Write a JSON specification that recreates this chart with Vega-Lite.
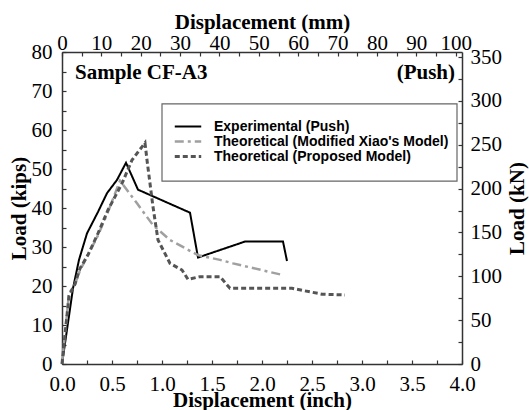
{
  "$schema": "https://vega.github.io/schema/vega-lite/v6.json",
  "width": 400,
  "height": 312,
  "autosize": {"type": "none"},
  "padding": {"left": 62, "top": 52, "right": 67, "bottom": 46},
  "background": "white",
  "config": {
    "view": {"stroke": null},
    "axis": {
      "labelFont": "Liberation Serif",
      "labelFontSize": 21,
      "labelColor": "black",
      "titleFont": "Liberation Serif",
      "titleFontSize": 21,
      "titleFontWeight": "bold",
      "titleColor": "black",
      "domainColor": "#333",
      "domainWidth": 1.5,
      "tickColor": "#333",
      "tickWidth": 1.2,
      "tickSize": -4,
      "grid": false,
      "labelOverlap": false,
      "labelFlush": false
    }
  },
  "datasets": {
    "curves": [
      {"series": "Experimental (Push)", "d": 0, "p": 0},
      {"series": "Experimental (Push)", "d": 0.11, "p": 19.4},
      {"series": "Experimental (Push)", "d": 0.17, "p": 26.7},
      {"series": "Experimental (Push)", "d": 0.25, "p": 33.5},
      {"series": "Experimental (Push)", "d": 0.36, "p": 39.0},
      {"series": "Experimental (Push)", "d": 0.45, "p": 43.8},
      {"series": "Experimental (Push)", "d": 0.55, "p": 47.2},
      {"series": "Experimental (Push)", "d": 0.64, "p": 51.6},
      {"series": "Experimental (Push)", "d": 0.76, "p": 44.7},
      {"series": "Experimental (Push)", "d": 1.28, "p": 38.8},
      {"series": "Experimental (Push)", "d": 1.36, "p": 27.3},
      {"series": "Experimental (Push)", "d": 1.83, "p": 31.4},
      {"series": "Experimental (Push)", "d": 2.21, "p": 31.4},
      {"series": "Experimental (Push)", "d": 2.25, "p": 26.4},
      {"series": "Theoretical (Modified Xiao's Model)", "d": 0, "p": 0},
      {"series": "Theoretical (Modified Xiao's Model)", "d": 0.07, "p": 18.1},
      {"series": "Theoretical (Modified Xiao's Model)", "d": 0.13, "p": 20.5},
      {"series": "Theoretical (Modified Xiao's Model)", "d": 0.18, "p": 24.0},
      {"series": "Theoretical (Modified Xiao's Model)", "d": 0.26, "p": 28.0},
      {"series": "Theoretical (Modified Xiao's Model)", "d": 0.36, "p": 33.0},
      {"series": "Theoretical (Modified Xiao's Model)", "d": 0.46, "p": 39.0},
      {"series": "Theoretical (Modified Xiao's Model)", "d": 0.58, "p": 47.0},
      {"series": "Theoretical (Modified Xiao's Model)", "d": 0.75, "p": 41.2},
      {"series": "Theoretical (Modified Xiao's Model)", "d": 0.91, "p": 35.6},
      {"series": "Theoretical (Modified Xiao's Model)", "d": 1.08, "p": 31.8},
      {"series": "Theoretical (Modified Xiao's Model)", "d": 1.36, "p": 27.9},
      {"series": "Theoretical (Modified Xiao's Model)", "d": 1.58, "p": 26.7},
      {"series": "Theoretical (Modified Xiao's Model)", "d": 1.71, "p": 25.8},
      {"series": "Theoretical (Modified Xiao's Model)", "d": 2.21, "p": 22.8},
      {"series": "Theoretical (Proposed Model)", "d": 0, "p": 0},
      {"series": "Theoretical (Proposed Model)", "d": 0.07, "p": 17.5},
      {"series": "Theoretical (Proposed Model)", "d": 0.13, "p": 20.5},
      {"series": "Theoretical (Proposed Model)", "d": 0.18, "p": 24.5},
      {"series": "Theoretical (Proposed Model)", "d": 0.26, "p": 28.0},
      {"series": "Theoretical (Proposed Model)", "d": 0.36, "p": 33.5},
      {"series": "Theoretical (Proposed Model)", "d": 0.46, "p": 39.5},
      {"series": "Theoretical (Proposed Model)", "d": 0.60, "p": 46.3},
      {"series": "Theoretical (Proposed Model)", "d": 0.70, "p": 52.3},
      {"series": "Theoretical (Proposed Model)", "d": 0.83, "p": 56.7},
      {"series": "Theoretical (Proposed Model)", "d": 0.85, "p": 52.3},
      {"series": "Theoretical (Proposed Model)", "d": 0.91, "p": 40.3},
      {"series": "Theoretical (Proposed Model)", "d": 0.96, "p": 31.8},
      {"series": "Theoretical (Proposed Model)", "d": 1.08, "p": 25.8},
      {"series": "Theoretical (Proposed Model)", "d": 1.20, "p": 24.1},
      {"series": "Theoretical (Proposed Model)", "d": 1.26, "p": 21.7},
      {"series": "Theoretical (Proposed Model)", "d": 1.38, "p": 22.4},
      {"series": "Theoretical (Proposed Model)", "d": 1.58, "p": 22.4},
      {"series": "Theoretical (Proposed Model)", "d": 1.68, "p": 19.4},
      {"series": "Theoretical (Proposed Model)", "d": 2.30, "p": 19.4},
      {"series": "Theoretical (Proposed Model)", "d": 2.60, "p": 17.9},
      {"series": "Theoretical (Proposed Model)", "d": 2.83, "p": 17.7}
    ],
    "labelLeft": [{"d": 0.13, "p": 73.1, "text": "Sample CF-A3"}],
    "labelRight": [{"d": 3.93, "p": 73.1, "text": "(Push)"}],
    "box": [{"x1": 1.0, "x2": 3.95, "y1": 46.9, "y2": 66.7}],
    "secondary": [{"mm": 0, "kN": 0}]
  },
  "layer": [
    {
      "data": {"name": "box"},
      "mark": {"type": "rect", "fill": "white", "stroke": "#666", "strokeWidth": 1.2},
      "encoding": {
        "x": {"field": "x1", "type": "quantitative", "scale": {"domain": [0, 4], "nice": false, "zero": false}, "axis": null},
        "x2": {"field": "x2"},
        "y": {"field": "y1", "type": "quantitative", "scale": {"domain": [0, 80], "nice": false, "zero": false}, "axis": null},
        "y2": {"field": "y2"}
      }
    },
    {
      "data": {"name": "curves"},
      "mark": {"type": "line", "strokeCap": "butt"},
      "encoding": {
        "x": {
          "field": "d", "type": "quantitative",
          "scale": {"domain": [0, 4], "nice": false},
          "axis": {
            "orient": "bottom",
            "title": "Displacement (inch)",
            "values": [0, 0.25, 0.5, 0.75, 1, 1.25, 1.5, 1.75, 2, 2.25, 2.5, 2.75, 3, 3.25, 3.5, 3.75, 4],
            "labelExpr": "datum.value % 0.5 == 0 ? format(datum.value, '.1f') : ''",
            "labelPadding": 13,
            "titlePadding": -5
          }
        },
        "y": {
          "field": "p", "type": "quantitative",
          "scale": {"domain": [0, 80], "nice": false},
          "axis": {
            "orient": "left",
            "title": "Load (kips)",
            "values": [0, 5, 10, 15, 20, 25, 30, 35, 40, 45, 50, 55, 60, 65, 70, 75, 80],
            "labelExpr": "datum.value % 10 == 0 ? datum.label : ''",
            "labelPadding": 14,
            "titlePadding": 2
          }
        },
        "color": {
          "field": "series", "type": "nominal",
          "scale": {
            "domain": ["Experimental (Push)", "Theoretical (Modified Xiao's Model)", "Theoretical (Proposed Model)"],
            "range": ["#000000", "#a0a0a0", "#555555"]
          },
          "legend": {
            "orient": "none",
            "legendX": 111,
            "legendY": 67,
            "title": null,
            "padding": 0,
            "symbolType": "stroke",
            "symbolSize": 700,
            "symbolStrokeWidth": 3,
            "labelFont": "Liberation Sans",
            "labelFontWeight": "bold",
            "labelFontSize": 14,
            "labelColor": "black",
            "labelOffset": 11,
            "labelLimit": 400,
            "clipHeight": 15,
            "rowPadding": 0
          }
        },
        "strokeDash": {
          "field": "series", "type": "nominal",
          "scale": {
            "domain": ["Experimental (Push)", "Theoretical (Modified Xiao's Model)", "Theoretical (Proposed Model)"],
            "range": [[1, 0], [9, 4, 3, 4], [5, 3]]
          },
          "legend": null
        },
        "strokeWidth": {
          "field": "series", "type": "nominal",
          "scale": {
            "domain": ["Experimental (Push)", "Theoretical (Modified Xiao's Model)", "Theoretical (Proposed Model)"],
            "range": [2, 3, 3.5]
          },
          "legend": null
        }
      }
    },
    {
      "data": {"name": "labelLeft"},
      "mark": {"type": "text", "font": "Liberation Serif", "fontWeight": "bold", "fontSize": 21, "baseline": "alphabetic", "align": "left", "color": "black"},
      "encoding": {
        "x": {"field": "d", "type": "quantitative", "scale": {"domain": [0, 4], "nice": false, "zero": false}, "axis": null},
        "y": {"field": "p", "type": "quantitative", "scale": {"domain": [0, 80], "nice": false, "zero": false}, "axis": null},
        "text": {"field": "text"}
      }
    },
    {
      "data": {"name": "labelRight"},
      "mark": {"type": "text", "font": "Liberation Serif", "fontWeight": "bold", "fontSize": 21, "baseline": "alphabetic", "align": "right", "color": "black"},
      "encoding": {
        "x": {"field": "d", "type": "quantitative", "scale": {"domain": [0, 4], "nice": false, "zero": false}, "axis": null},
        "y": {"field": "p", "type": "quantitative", "scale": {"domain": [0, 80], "nice": false, "zero": false}, "axis": null},
        "text": {"field": "text"}
      }
    },
    {
      "data": {"name": "secondary"},
      "mark": {"type": "point", "opacity": 0},
      "encoding": {
        "x": {
          "field": "mm", "type": "quantitative",
          "scale": {"domain": [0, 101.6], "nice": false},
          "axis": {
            "orient": "top",
            "title": "Displacement (mm)",
            "values": [0, 5, 10, 15, 20, 25, 30, 35, 40, 45, 50, 55, 60, 65, 70, 75, 80, 85, 90, 95, 100],
            "labelExpr": "datum.value % 10 == 0 ? datum.label : ''",
            "labelPadding": 3,
            "titlePadding": 0
          }
        },
        "y": {
          "field": "kN", "type": "quantitative",
          "scale": {"domain": [0, 355.86], "nice": false},
          "axis": {
            "orient": "right",
            "title": "Load (kN)",
            "titleAngle": 270,
            "values": [0, 25, 50, 75, 100, 125, 150, 175, 200, 225, 250, 275, 300, 325, 350],
            "labelExpr": "datum.value % 50 == 0 ? datum.label : ''",
            "labelPadding": 12,
            "titlePadding": 26
          }
        }
      }
    }
  ],
  "resolve": {"scale": {"x": "independent", "y": "independent"}}
}
